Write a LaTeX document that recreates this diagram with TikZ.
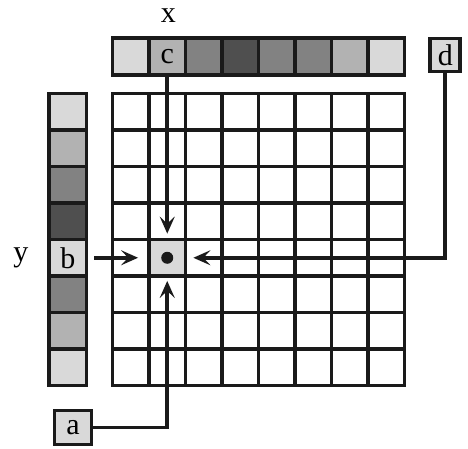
\documentclass[tikz,border=0pt]{standalone}
\usepackage{fontspec}
\setmainfont{Liberation Serif}
\usepackage{xcolor}
\usetikzlibrary{arrows.meta,positioning}
\definecolor{ink}{HTML}{1A1A1A}
\definecolor{shadeA}{HTML}{D9D9D9}
\definecolor{shadeB}{HTML}{B2B2B2}
\definecolor{shadeC}{HTML}{828282}
\definecolor{shadeD}{HTML}{4F4F4F}

\begin{document}
\begin{tikzpicture}[x=36.5pt, y=36.5pt,
  every node/.style={font=\fontsize{30}{31}\selectfont},
  heavy/.style={draw=ink, line width=3.8pt},
  topcell/.style={heavy, fill=#1, minimum width=36.5pt, minimum height=37.6pt, inner sep=0pt},
  sidecell/.style={heavy, fill=#1, minimum width=37.6pt, minimum height=36.5pt, inner sep=0pt},
  labelbox/.style={heavy, fill=shadeA, inner sep=0pt},
  pointer/.style={heavy, -{Stealth[length=17pt, width=15pt, inset=7pt]}}]
  \useasboundingbox (-3.082,-9.712) rectangle (9.740,2.562);

  % lookup table along x
  \foreach \shade/\txt [count=\i from 0] in {shadeA/, shadeB/c, shadeC/, shadeD/, shadeC/, shadeC/, shadeB/, shadeA/}
    \node[topcell=\shade] (top\i) at (\i+0.5,1.015) {\txt};
  % lookup table along y
  \foreach \shade/\txt [count=\j from 0] in {shadeA/, shadeB/, shadeC/, shadeD/, shadeA/b, shadeC/, shadeB/, shadeA/}
    \node[sidecell=\shade] (side\j) at (-1.225,-\j-0.5) {\txt};

  \node (xlab) at (1.53,2.14) {x};
  \node (ylab) at (-2.51,-4.5) {y};

  % the 2D table
  \draw[heavy, line cap=rect, xstep=36.5pt, ystep=36.5pt] (0,-8) grid (8,0);
  \node[heavy, fill=shadeA, minimum size=36.5pt, inner sep=0pt] (target) at (1.5,-4.5) {};
  \node[circle, fill=ink, minimum size=12pt, inner sep=0pt] (dot) at (target) {};

  \node[labelbox, minimum width=30pt, minimum height=33pt] (dbox) at (9.12,1.055) {d};
  \node[labelbox, minimum width=37pt, minimum height=34pt] (abox) at (-1.082,-9.15) {a};

  \draw[pointer, shorten >=4pt] (top1.south) -- (target.north);
  \draw[pointer, shorten <=6pt, shorten >=9pt] (side4.east) -- (target.west);
  \draw[pointer, shorten >=6pt] (dbox.south) |- (target.east);
  \draw[pointer, shorten >=3pt] (abox.east) -| (target.south);
\end{tikzpicture}
\end{document}
